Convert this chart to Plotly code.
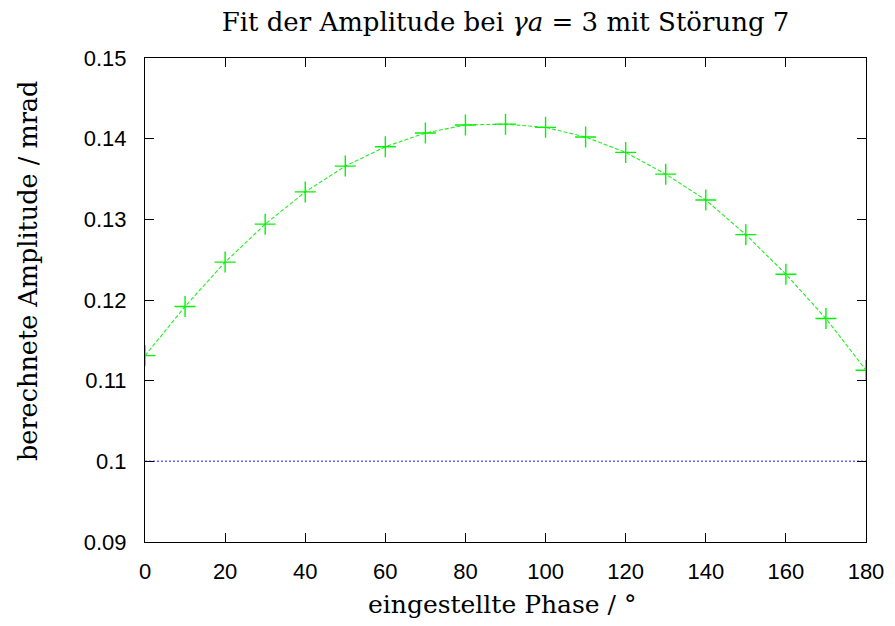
import plotly.graph_objects as go

phase = [0, 10, 20, 30, 40, 50, 60, 70, 80, 90, 100, 110, 120, 130, 140, 150, 160, 170, 180]
amplitude = [0.1131, 0.1192, 0.1247, 0.1294, 0.1334, 0.1366, 0.1390, 0.1407, 0.1417, 0.1418,
             0.1414, 0.1402, 0.1383, 0.1356, 0.1324, 0.1281, 0.1232, 0.1177, 0.1113]
ref_x = [0, 180]
ref_y = [0.1, 0.1]

y_ticks = [0.09, 0.10, 0.11, 0.12, 0.13, 0.14, 0.15]
y_ticktext = ["0.09", "0.1", "0.11", "0.12", "0.13", "0.14", "0.15"]
x_ticks = [0, 20, 40, 60, 80, 100, 120, 140, 160, 180]

fig = go.Figure()
fig.add_trace(go.Scatter(x=ref_x, y=ref_y, mode="lines",
                         line=dict(color="rgb(100,100,255)", width=1.5, dash="2px,2px"),
                         showlegend=False))
fig.add_trace(go.Scatter(x=phase, y=amplitude, mode="lines+markers",
                         line=dict(color="rgb(30,240,30)", width=1.1, dash="4px,2px"),
                         marker=dict(symbol="cross-thin", size=15,
                                     line=dict(color="rgb(0,245,0)", width=1.4)),
                         showlegend=False))

serif = "DejaVu Serif"
fig.update_layout(
    width=895, height=626,
    margin=dict(l=137, r=37, t=50, b=92),
    paper_bgcolor="white", plot_bgcolor="white",
    title=dict(text="Fit der Amplitude bei <i>γa</i> = 3 mit Störung 7",
               xref="paper", x=0.5, xanchor="center", y=0.978, yanchor="middle",
               font=dict(family=serif, size=26, color="black")),
    font=dict(family="Liberation Sans", size=22, color="black"),
    annotations=[
        dict(text="eingestellte Phase / °", xref="paper", yref="paper",
             x=0.5, y=0, xanchor="center", yanchor="middle", yshift=-62, xshift=-4,
             showarrow=False, font=dict(family=serif, size=25, color="black")),
        dict(text="berechnete Amplitude / mrad", xref="paper", yref="paper",
             x=0, y=0.5, xanchor="center", yanchor="middle", xshift=-117, yshift=29,
             textangle=-90, showarrow=False,
             font=dict(family=serif, size=25.5, color="black")),
    ],
)
fig.update_xaxes(range=[0, 180], tickvals=x_ticks, ticks="inside", ticklen=9,
                 tickcolor="black", showgrid=False, zeroline=False,
                 showline=True, linecolor="black", linewidth=1.2, mirror="ticks",
                 ticklabelstandoff=9,
                 tickfont=dict(family="Liberation Sans", size=22))
fig.update_yaxes(range=[0.09, 0.15], tickvals=y_ticks, ticktext=y_ticktext,
                 ticks="inside", ticklen=9, tickcolor="black", showgrid=False,
                 zeroline=False, showline=True, linecolor="black", linewidth=1.2,
                 mirror="ticks", ticklabelstandoff=13,
                 tickfont=dict(family="Liberation Sans", size=22))

fig.write_html("out.html")
